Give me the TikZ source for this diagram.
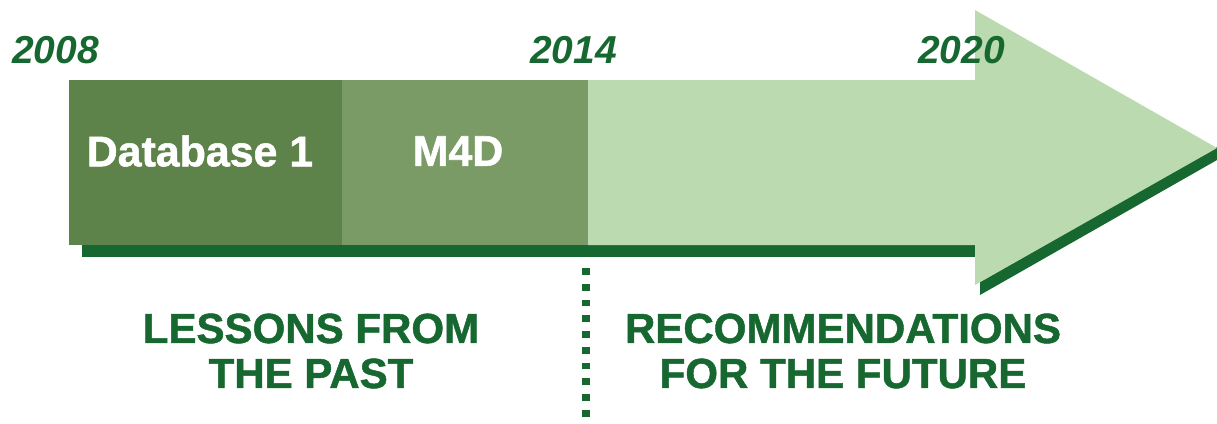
\documentclass[tikz,border=0pt]{standalone}
\usepackage{fontspec}
\setmainfont{Liberation Sans}
\newfontfamily\heavyfont{Liberation Sans Bold}[FakeBold=1.2]

\definecolor{dbgreen}{HTML}{5E834A}
\definecolor{mgreen}{HTML}{7A9A66}
\definecolor{lightgreen}{HTML}{BCDAAF}
\definecolor{darkgreen}{HTML}{166830}

\begin{document}
\begin{tikzpicture}[x=0.025cm, y=-0.025cm,
  year/.style={font=\fontsize{27.7}{30}\selectfont\bfseries\itshape, text=darkgreen, inner sep=0pt, anchor=base west},
  boxtext/.style={font=\fontsize{30.5}{32}\heavyfont, text=white, inner sep=0pt},
  caption/.style={font=\fontsize{29.9}{32}\heavyfont, text=darkgreen, align=center, inner sep=0pt}]

\useasboundingbox (0,0) rectangle (1217,423);

% Тень под стрелкой
\fill[darkgreen] (82,245) rectangle (975,257);
\fill[darkgreen] (980,282) -- (1217,147) -- (1217,160) -- (980,295) -- cycle;

% Стрелка (будущее)
\fill[lightgreen] (588,80) -- (975,80) -- (975,10) -- (1217,148) -- (975,285) -- (975,245) -- (588,245) -- cycle;

% Прошлое: два блока
\fill[dbgreen] (69,80) rectangle (342,245);
\fill[mgreen] (342,80) rectangle (588,245);

\node[boxtext] (db) at (200,151) {Database 1};
\node[boxtext] (m4d) at (458,151) {M4D};

% Годы
\node[year] (y2008) at (12,63) {2008};
\node[year] (y2014) at (530,63) {2014};
\node[year] (y2020) at (918,63) {2020};

% Граница
\coordinate (splittop) at (586,268);
\coordinate (splitbot) at (586,423);
\draw[darkgreen, line width=5pt, dash pattern=on 4.8pt off 6.4pt] (splittop) -- (splitbot);

% Подписи
\node[caption] (past) at (311,351) {LESSONS FROM\\THE PAST};
\node[caption] (future) at (843,351) {RECOMMENDATIONS\\FOR THE FUTURE};

\end{tikzpicture}
\end{document}
